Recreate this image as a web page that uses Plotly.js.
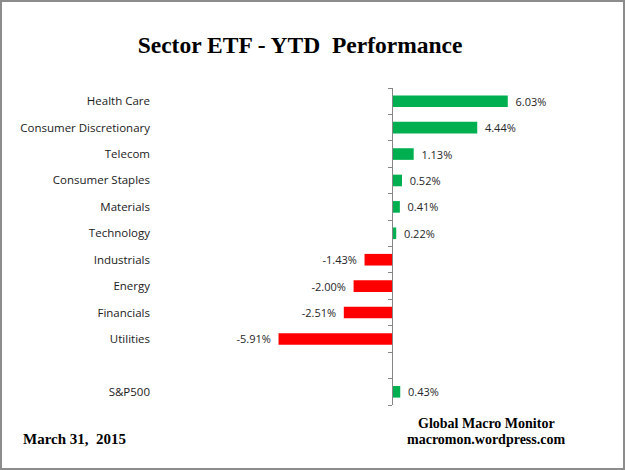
<!DOCTYPE html>
<html>
<head>
<meta charset="utf-8">
<script src="https://cdn.plot.ly/plotly-3.0.1.min.js"></script>
<style>
  html, body { margin: 0; padding: 0; background: #fff; }
  #wrap { width: 621px; height: 466px; border: 2px solid #8c8c8c; }
  #chart { width: 621px; height: 466px; }
</style>
</head>
<body>
<div id="wrap"><div id="chart"></div></div>
<script>
const categories = ["Health Care", "Consumer Discretionary", "Telecom", "Consumer Staples",
  "Materials", "Technology", "Industrials", "Energy", "Financials", "Utilities", " ", "S&P500"];
const values = [6.03, 4.44, 1.13, 0.52, 0.41, 0.22, -1.43, -2.00, -2.51, -5.91, null, 0.43];
const titleText = "Sector ETF - YTD\u00A0\u00A0Performance";
const dateText = "March 31,\u00A0\u00A02015";
const creditLine1 = "Global Macro Monitor";
const creditLine2 = "macromon.wordpress.com";

const GREEN = "#00B050", RED = "#FF0000";
const PAD = "\u00A0\u2009";
const colors = values.map(v => (v !== null && v < 0) ? RED : GREEN);
const labels = values.map(v => v === null ? "" : (v < 0 ? v.toFixed(2) + "%" + PAD : PAD + v.toFixed(2) + "%"));

const xr = [-12.083, 10.833];
const yr = [categories.length - 0.5, -0.5];
const zeroPos = (0 - xr[0]) / (xr[1] - xr[0]);
const boundaries = categories.map((_, i) => i - 0.5).concat([categories.length - 0.5]);

const trace = {
  type: "bar",
  orientation: "h",
  y: categories,
  x: values,
  marker: { color: colors },
  text: labels,
  textposition: "outside",
  constraintext: "none",
  cliponaxis: false,
  textfont: { family: "Open Sans, sans-serif", size: 11, color: "#262626" },
  hoverinfo: "none"
};

const layout = {
  width: 621, height: 466,
  margin: { l: 158, r: 23, t: 86, b: 63 },
  paper_bgcolor: "#fff", plot_bgcolor: "#fff",
  showlegend: false,
  bargap: 0.56,
  title: {
    text: titleText,
    font: { family: "Liberation Serif, Times New Roman, serif", size: 23.5, color: "#000", weight: "bold" },
    xref: "container", yref: "container",
    x: 0.48, xanchor: "center", y: 0.908, yanchor: "middle"
  },
  xaxis: {
    range: xr, showgrid: false, zeroline: false, showline: false,
    showticklabels: false, ticks: "", fixedrange: true
  },
  yaxis: {
    type: "category", categoryarray: categories, range: yr,
    showgrid: false, zeroline: false, showline: false, ticks: "",
    ticklabelstandoff: 9,
    tickfont: { family: "Open Sans, sans-serif", size: 11.5, color: "#1a1a1a" }
  },
  yaxis2: {
    type: "linear", overlaying: "y", anchor: "free", position: zeroPos, side: "left",
    range: yr, showgrid: false, zeroline: false,
    showline: true, linecolor: "#868686", linewidth: 1.3,
    ticks: "outside", ticklen: 4, tickwidth: 1, tickcolor: "#868686",
    tickmode: "array", tickvals: boundaries, showticklabels: false
  },
  annotations: [
    { text: creditLine1, xref: "paper", yref: "paper", x: 0.741, y: -0.0568,
      xanchor: "center", yanchor: "middle", showarrow: false,
      font: { family: "Liberation Serif, Times New Roman, serif", size: 14, color: "#000", weight: "bold" } },
    { text: creditLine2, xref: "paper", yref: "paper", x: 0.741, y: -0.110,
      xanchor: "center", yanchor: "middle", showarrow: false,
      font: { family: "Liberation Serif, Times New Roman, serif", size: 14, color: "#000", weight: "bold" } },
    { text: dateText, xref: "paper", yref: "paper", x: -0.316, y: -0.107,
      xanchor: "left", yanchor: "middle", showarrow: false,
      font: { family: "Liberation Serif, Times New Roman, serif", size: 15, color: "#000", weight: "bold" } }
  ]
};

const axisTrace = { type: "scatter", x: [], y: [], yaxis: "y2", hoverinfo: "none", showlegend: false };

Plotly.newPlot("chart", [trace, axisTrace], layout, { staticPlot: true, displayModeBar: false });
</script>
</body>
</html>
